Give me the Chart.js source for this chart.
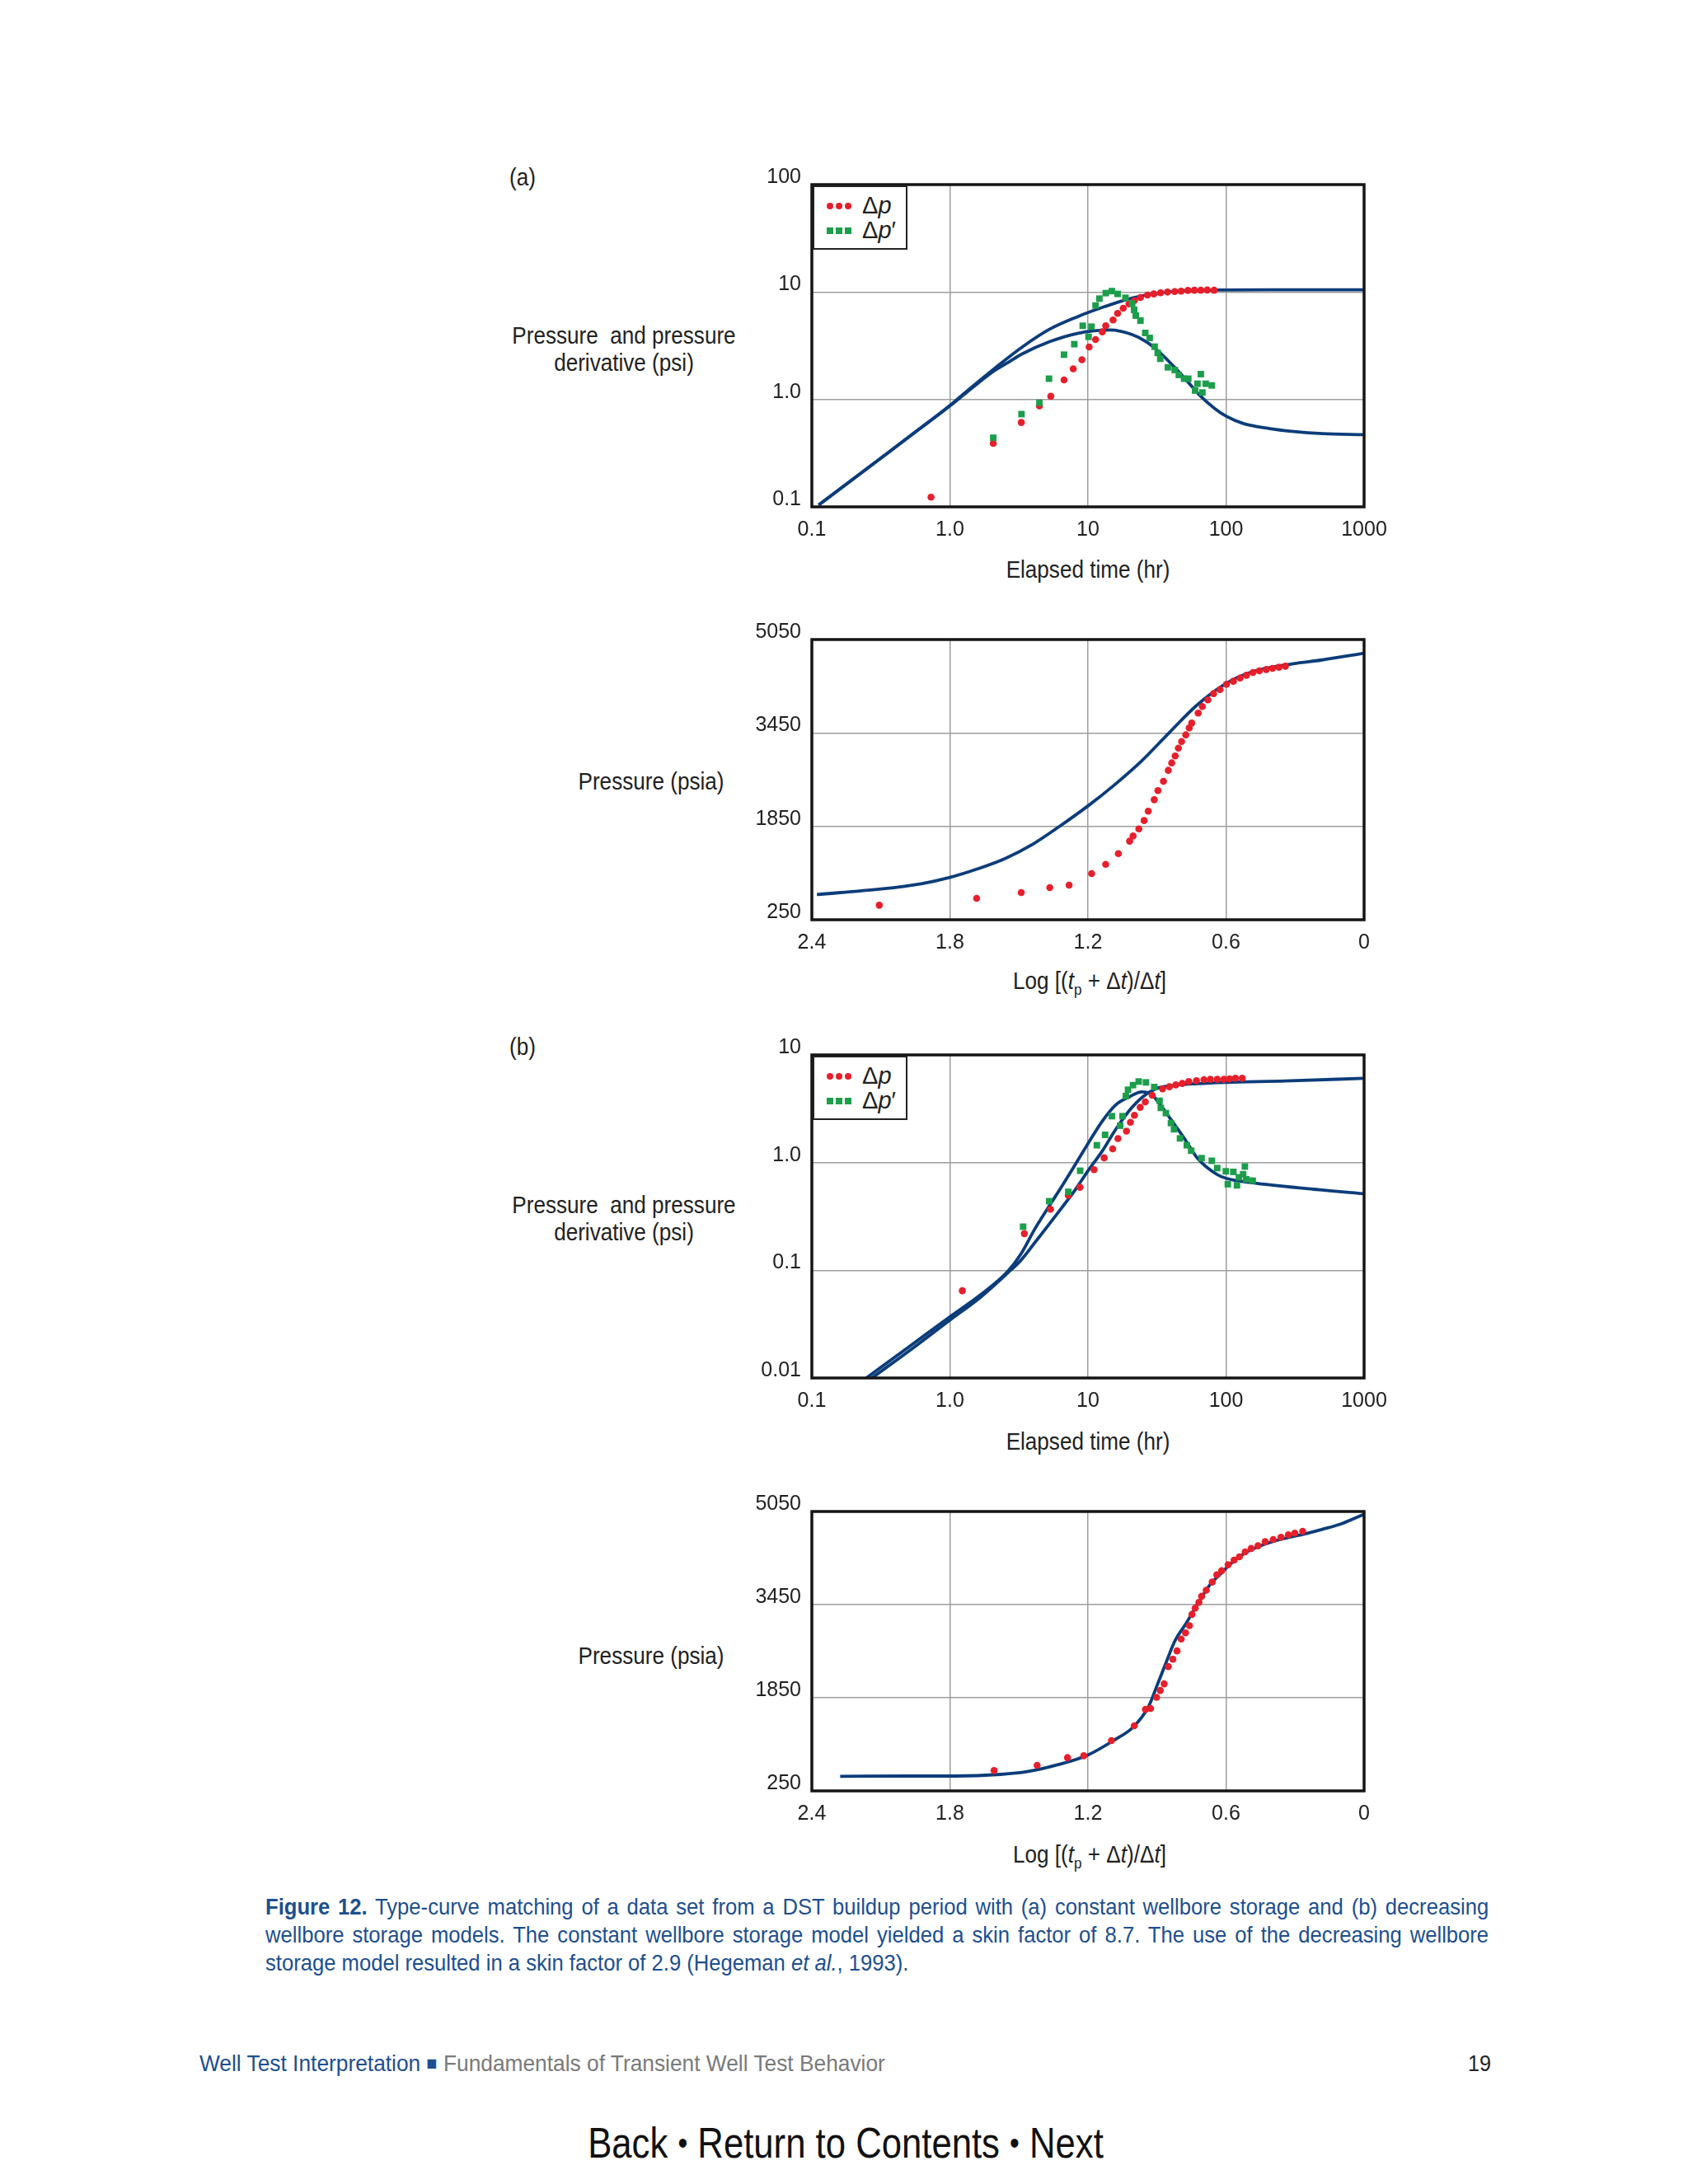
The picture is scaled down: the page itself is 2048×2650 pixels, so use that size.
<!DOCTYPE html>
<html>
<head>
<meta charset="utf-8">
<script src="https://cdn.jsdelivr.net/npm/chart.js@4.4.1/dist/chart.umd.min.js"></script>
<style>
  body {
    margin: 0;
    width: 2048px;
    height: 2650px;
    position: relative;
    background: #fff;
    font-family: 'Liberation Sans', Arial, sans-serif;
    color: #222;
  }
  .t { position: absolute; white-space: nowrap; }
  .c { transform: translate(-50%, -50%) scaleX(0.9); text-align: center; }
  .ytitle { font-size: 29px; line-height: 33px; }
  .xtitle { font-size: 29px; }
  canvas { position: absolute; }
  .legend {
    position: absolute;
    width: 111px;
    height: 74px;
    border: 2px solid #222;
    background: #fff;
  }
  .mk { position: absolute; width: 8px; height: 8px; }
  .mk.red { background: #e61f2b; border-radius: 50%; }
  .mk.green { background: #1c9e4b; }
  .lab { position: absolute; font-size: 29px; line-height: 30px; left: 58px; }
  .cap {
    position: absolute;
    left: 322px;
    width: 1622px;
    font-size: 28px;
    line-height: 34px;
    color: #1d4f8f;
    text-align: justify;
    text-align-last: justify;
    transform: scaleX(0.915);
    transform-origin: left top;
  }
  .left { transform-origin: left center; }
</style>
</head>
<body>

<div class="t left" style="left:618px;top:199px;font-size:29px;transform:scaleX(0.9);">(a)</div>
<div class="t left" style="left:618px;top:1254px;font-size:29px;transform:scaleX(0.9);">(b)</div>

<div class="t c ytitle" style="left:757px;top:424px;">Pressure&nbsp; and pressure<br>derivative (psi)</div>
<div class="t c ytitle" style="left:790px;top:948px;">Pressure (psia)</div>
<div class="t c ytitle" style="left:757px;top:1479px;">Pressure&nbsp; and pressure<br>derivative (psi)</div>
<div class="t c ytitle" style="left:790px;top:2009px;">Pressure (psia)</div>

<div class="t c xtitle" style="left:1320px;top:691px;">Elapsed time (hr)</div>
<div class="t c xtitle" style="left:1322px;top:1193px;">Log [(<i>t</i><sub style="font-size:19px">p</sub> + Δ<i>t</i>)/Δ<i>t</i>]</div>
<div class="t c xtitle" style="left:1320px;top:1749px;">Elapsed time (hr)</div>
<div class="t c xtitle" style="left:1322px;top:2253px;">Log [(<i>t</i><sub style="font-size:19px">p</sub> + Δ<i>t</i>)/Δ<i>t</i>]</div>

<canvas id="chartA" width="825" height="481" style="left:875px;top:194px;"></canvas>
<canvas id="chartA2" width="825" height="430" style="left:875px;top:746px;"></canvas>
<canvas id="chartB" width="825" height="482" style="left:875px;top:1250px;"></canvas>
<canvas id="chartB2" width="825" height="429" style="left:875px;top:1804px;"></canvas>

<div class="legend" style="left:986px;top:225px;">
  <span class="mk red" style="left:15px;top:19px;"></span>
  <span class="mk red" style="left:26px;top:19px;"></span>
  <span class="mk red" style="left:37px;top:19px;"></span>
  <span class="lab" style="top:7px;">Δ<i>p</i></span>
  <span class="mk green" style="left:15px;top:49px;"></span>
  <span class="mk green" style="left:26px;top:49px;"></span>
  <span class="mk green" style="left:37px;top:49px;"></span>
  <span class="lab" style="top:37px;">Δ<i>p</i>′</span>
</div>
<div class="legend" style="left:986px;top:1281px;">
  <span class="mk red" style="left:15px;top:19px;"></span>
  <span class="mk red" style="left:26px;top:19px;"></span>
  <span class="mk red" style="left:37px;top:19px;"></span>
  <span class="lab" style="top:7px;">Δ<i>p</i></span>
  <span class="mk green" style="left:15px;top:49px;"></span>
  <span class="mk green" style="left:26px;top:49px;"></span>
  <span class="mk green" style="left:37px;top:49px;"></span>
  <span class="lab" style="top:37px;">Δ<i>p</i>′</span>
</div>

<div class="cap" style="top:2297px;"><b>Figure 12.</b> Type-curve matching of a data set from a DST buildup period with (a) constant wellbore storage and (b) decreasing</div>
<div class="cap" style="top:2331px;">wellbore storage models. The constant wellbore storage model yielded a skin factor of 8.7. The use of the decreasing wellbore</div>
<div class="cap" style="top:2365px;text-align:left;text-align-last:left;">storage model resulted in a skin factor of 2.9 (Hegeman <i>et al.</i>, 1993).</div>

<div class="t left" style="left:242px;top:2488px;font-size:28px;transform:scaleX(0.94);"><span style="color:#1d4f8f">Well Test Interpretation</span> <span style="color:#1d4f8f;font-size:23px;position:relative;top:-2px;">■</span> <span style="color:#7a7a7a">Fundamentals of Transient Well Test Behavior</span></div>
<div class="t" style="left:1769px;top:2488px;font-size:28px;width:40px;text-align:right;transform:scaleX(0.9);transform-origin:right center;">19</div>

<div class="t" style="left:1026px;top:2600px;font-size:52px;color:#111;transform:translate(-50%,-50%) scaleX(0.84);">Back&nbsp;<span style="font-size:40px;position:relative;top:-4px;">•</span>&nbsp;Return to Contents&nbsp;<span style="font-size:40px;position:relative;top:-4px;">•</span>&nbsp;Next</div>

<script>
const FONT = "'Liberation Sans', Arial, sans-serif";

// (a) constant wellbore storage, log-log
const aDpTime = [0.73, 2.06, 3.29, 4.45, 5.38, 6.71, 7.82, 9.04, 10.2, 11.35, 12.7, 13.45, 15.2, 16.4, 18.0, 19.8, 21.7, 24.0, 27.0, 30.0, 33.6, 37.7, 42.5, 47.3, 53.0, 59.0, 65.7, 73.1, 82.0];
const aDp = [0.123, 0.39, 0.61, 0.87, 1.07, 1.52, 1.93, 2.34, 3.08, 3.61, 4.26, 4.85, 5.49, 6.32, 7.06, 7.76, 8.33, 8.89, 9.37, 9.60, 9.83, 10.0, 10.1, 10.2, 10.35, 10.4, 10.4, 10.45, 10.4];
const aDerivTime = [2.06, 3.30, 4.45, 5.22, 6.71, 7.96, 9.16, 10.1, 10.6, 11.35, 12.1, 13.45, 14.9, 16.4, 18.7, 20.9, 21.6, 22.2, 24.0, 26.0, 28.0, 30.4, 32.0, 33.4, 37.9, 42.5, 45.5, 49.7, 53.3, 59.7, 62.1, 65.7, 67.4, 71.3, 78.9];
const aDeriv = [0.44, 0.73, 0.93, 1.56, 2.61, 3.27, 4.85, 3.83, 4.76, 7.49, 8.68, 9.77, 10.2, 9.6, 8.84, 7.81, 6.82, 6.03, 5.42, 4.16, 3.74, 3.10, 2.71, 2.39, 1.99, 1.88, 1.69, 1.56, 1.56, 1.21, 1.40, 1.72, 1.16, 1.40, 1.35];
const aModelPTime = [0.112, 0.3, 0.6, 1.0, 1.33, 2.11, 3.33, 5.28, 8.36, 13.2, 20.9, 33.2, 52.6, 100, 208, 1000];
const aModelP = [0.104, 0.27, 0.53, 0.88, 1.2, 1.95, 3.07, 4.51, 5.88, 7.31, 8.79, 9.82, 10.3, 10.45, 10.5, 10.5];
const aModelDTime = [0.112, 0.3, 0.6, 1.0, 1.33, 2.11, 2.65, 3.33, 5.28, 8.36, 14.5, 20.9, 26.4, 33.2, 41.8, 52.6, 66.1, 83.2, 100, 132, 208, 300, 500, 1000];
const aModelD = [0.104, 0.27, 0.53, 0.87, 1.17, 1.86, 2.22, 2.65, 3.45, 4.12, 4.43, 4.01, 3.45, 2.73, 2.03, 1.47, 1.06, 0.82, 0.70, 0.60, 0.535, 0.505, 0.48, 0.47];

// (a) Horner plot
const a2Horner = [2.107, 1.684, 1.490, 1.366, 1.282, 1.184, 1.123, 1.068, 1.019, 1.004, 0.979, 0.956, 0.938, 0.912, 0.896, 0.872, 0.851, 0.836, 0.821, 0.807, 0.793, 0.775, 0.760, 0.749, 0.721, 0.703, 0.679, 0.654, 0.626, 0.598, 0.568, 0.539, 0.511, 0.483, 0.455, 0.425, 0.398, 0.370, 0.342];
const a2Pressure = [499, 617, 716, 800, 843, 1040, 1200, 1384, 1596, 1685, 1807, 1949, 2109, 2306, 2462, 2622, 2810, 2937, 3055, 3191, 3304, 3417, 3535, 3619, 3789, 3902, 4015, 4123, 4193, 4283, 4335, 4391, 4438, 4485, 4513, 4537, 4556, 4575, 4593];
const a2ModelHorner = [2.378, 2.1, 1.92, 1.8, 1.68, 1.56, 1.44, 1.32, 1.2, 1.088, 0.968, 0.848, 0.728, 0.6, 0.488, 0.308, 0.188, 0];
const a2ModelPressure = [683, 777, 871, 975, 1121, 1299, 1544, 1860, 2200, 2550, 2966, 3450, 3921, 4297, 4495, 4636, 4697, 4815];

// (b) decreasing wellbore storage, log-log
const bDpTime = [1.23, 3.46, 5.35, 7.20, 8.75, 11.07, 13.1, 15.1, 16.5, 19.0, 20.3, 21.7, 23.9, 26.0, 29.2, 34.7, 38.9, 43.3, 48.2, 53.7, 61.0, 69.2, 76.9, 86.3, 96.6, 106, 117, 131];
const bDp = [0.0646, 0.219, 0.369, 0.495, 0.590, 0.86, 1.107, 1.34, 1.67, 1.96, 2.37, 2.75, 3.26, 3.66, 4.22, 4.83, 5.06, 5.27, 5.43, 5.66, 5.76, 5.90, 5.93, 5.93, 5.93, 5.99, 6.07, 6.07];
const bDerivTime = [3.39, 5.24, 7.20, 8.78, 11.6, 13.3, 14.9, 17.1, 17.8, 18.8, 19.5, 21.2, 23.3, 26.3, 30.2, 33.0, 33.7, 36.7, 39.9, 42.0, 46.4, 52.0, 55.9, 66.5, 78.9, 86.3, 99.7, 103, 113, 120, 124, 133, 137, 140, 156];
const bDeriv = [0.254, 0.438, 0.535, 0.84, 1.45, 1.81, 2.70, 2.20, 2.70, 4.15, 4.75, 5.24, 5.66, 5.56, 5.03, 3.75, 3.22, 2.88, 2.33, 2.04, 1.68, 1.45, 1.29, 1.10, 1.04, 0.89, 0.83, 0.63, 0.82, 0.615, 0.73, 0.78, 0.92, 0.70, 0.68];
const bModelPTime = [0.272, 0.55, 1.0, 1.66, 2.61, 3.27, 4.10, 5.14, 6.45, 8.09, 10.1, 12.7, 15.9, 20.0, 25.0, 31.4, 39.4, 62, 100, 266, 1000];
const bModelP = [0.010, 0.0193, 0.0345, 0.056, 0.094, 0.124, 0.179, 0.26, 0.38, 0.56, 0.855, 1.28, 2.04, 3.06, 4.09, 4.87, 5.16, 5.41, 5.56, 5.72, 6.07];
const bModelDTime = [0.248, 0.5, 1.0, 1.66, 2.61, 3.27, 4.10, 5.14, 6.45, 8.09, 10.1, 12.7, 15.9, 20.0, 24.5, 28.7, 32.9, 39.4, 49.4, 62.0, 85.4, 100, 147, 331, 1000];
const bModelD = [0.010, 0.0193, 0.037, 0.059, 0.097, 0.142, 0.239, 0.38, 0.60, 0.96, 1.53, 2.43, 3.44, 4.09, 4.54, 4.34, 3.54, 2.57, 1.71, 1.10, 0.78, 0.715, 0.656, 0.584, 0.514];

// (b) Horner plot
const b2Horner = [1.608, 1.421, 1.289, 1.218, 1.098, 0.999, 0.950, 0.928, 0.902, 0.886, 0.869, 0.851, 0.831, 0.813, 0.795, 0.776, 0.759, 0.748, 0.734, 0.718, 0.706, 0.686, 0.660, 0.640, 0.619, 0.591, 0.565, 0.542, 0.517, 0.491, 0.461, 0.430, 0.395, 0.361, 0.329, 0.301, 0.267];
const b2Pressure = [599, 689, 821, 854, 1113, 1368, 1650, 1665, 1858, 1976, 2089, 2386, 2513, 2655, 2858, 2966, 3089, 3282, 3390, 3489, 3593, 3697, 3838, 3961, 4032, 4135, 4215, 4272, 4357, 4414, 4461, 4531, 4569, 4607, 4649, 4678, 4711];
const b2ModelHorner = [2.277, 1.992, 1.778, 1.580, 1.465, 1.333, 1.202, 1.086, 1.004, 0.938, 0.897, 0.864, 0.823, 0.774, 0.724, 0.675, 0.625, 0.576, 0.511, 0.428, 0.346, 0.264, 0.181, 0.099, 0];
const b2ModelPressure = [500, 505, 505, 533, 580, 698, 863, 1122, 1344, 1688, 2089, 2419, 2820, 3126, 3456, 3763, 3975, 4164, 4352, 4494, 4588, 4659, 4744, 4838, 5003];

// Tick values and labels
const timeTicks = [0.1, 1, 10, 100, 1000];
const timeLabels = ['0.1', '1.0', '10', '100', '1000'];
const aPsiTicks = [0.1, 1, 10, 100];
const aPsiLabels = ['0.1', '1.0', '10', '100'];
const bPsiTicks = [0.01, 0.1, 1, 10];
const bPsiLabels = ['0.01', '0.1', '1.0', '10'];
const hornerTicks = [0, 0.6, 1.2, 1.8, 2.4];
const hornerLabels = ['0', '0.6', '1.2', '1.8', '2.4'];
const psiaTicks = [250, 1850, 3450, 5050];
const psiaLabels = ['250', '1850', '3450', '5050'];

const RED = '#e61f2b';
const GREEN = '#1c9e4b';
const BLUE = '#0c3d7a';

const zip = (xs, ys) => xs.map((x, i) => ({ x: x, y: ys[i] }));

// Black box around the plot area
const framePlugin = {
  id: 'frame',
  afterDatasetsDraw(chart) {
    const { ctx, chartArea: a } = chart;
    ctx.save();
    ctx.strokeStyle = '#151515';
    ctx.lineWidth = 3.5;
    ctx.strokeRect(a.left, a.top, a.right - a.left, a.bottom - a.top);
    ctx.restore();
  }
};

function axis(type, min, max, tickVals, tickLabels, isX, reverse) {
  return {
    type: type,
    min: min,
    max: max,
    reverse: !!reverse,
    afterBuildTicks: (scale) => {
      scale.ticks = tickVals.map(v => ({ value: v }));
    },
    afterFit: (scale) => {
      if (isX) scale.height = 60; else scale.width = 110;
    },
    ticks: {
      autoSkip: false,
      maxRotation: 0,
      padding: 13,
      labelOffset: isX ? 0 : -9,
      color: '#222',
      font: { family: FONT, size: 25 },
      callback: (value, index) => tickLabels[index]
    },
    grid: { color: '#9d9d9d', lineWidth: 1.5, drawTicks: false },
    border: { display: false }
  };
}

function curve(points) {
  return {
    data: points,
    showLine: true,
    borderColor: BLUE,
    borderWidth: 3.8,
    pointRadius: 0,
    cubicInterpolationMode: 'monotone',
    order: 2
  };
}

function dots(points) {
  return { data: points, pointStyle: 'circle', pointRadius: 4.3, backgroundColor: RED, borderWidth: 0, order: 1 };
}

function squares(points) {
  return { data: points, pointStyle: 'rect', pointRadius: 5.6, backgroundColor: GREEN, borderWidth: 0, order: 1 };
}

function makeChart(id, datasets, xScale, yScale) {
  return new Chart(document.getElementById(id), {
    type: 'scatter',
    data: { datasets: datasets },
    options: {
      responsive: false,
      animation: false,
      layout: { padding: { left: 0, right: 45, top: 30, bottom: 0 } },
      plugins: { legend: { display: false }, tooltip: { enabled: false } },
      scales: { x: xScale, y: yScale }
    },
    plugins: [framePlugin]
  });
}

makeChart('chartA', [
  curve(zip(aModelPTime, aModelP)),
  curve(zip(aModelDTime, aModelD)),
  squares(zip(aDerivTime, aDeriv)),
  dots(zip(aDpTime, aDp))
], axis('logarithmic', 0.1, 1000, timeTicks, timeLabels, true),
   axis('logarithmic', 0.1, 100, aPsiTicks, aPsiLabels, false));

makeChart('chartA2', [
  curve(zip(a2ModelHorner, a2ModelPressure)),
  dots(zip(a2Horner, a2Pressure))
], axis('linear', 0, 2.4, hornerTicks, hornerLabels, true, true),
   axis('linear', 250, 5050, psiaTicks, psiaLabels, false));

makeChart('chartB', [
  curve(zip(bModelPTime, bModelP)),
  curve(zip(bModelDTime, bModelD)),
  squares(zip(bDerivTime, bDeriv)),
  dots(zip(bDpTime, bDp))
], axis('logarithmic', 0.1, 1000, timeTicks, timeLabels, true),
   axis('logarithmic', 0.01, 10, bPsiTicks, bPsiLabels, false));

makeChart('chartB2', [
  curve(zip(b2ModelHorner, b2ModelPressure)),
  dots(zip(b2Horner, b2Pressure))
], axis('linear', 0, 2.4, hornerTicks, hornerLabels, true, true),
   axis('linear', 250, 5050, psiaTicks, psiaLabels, false));
</script>
</body>
</html>
